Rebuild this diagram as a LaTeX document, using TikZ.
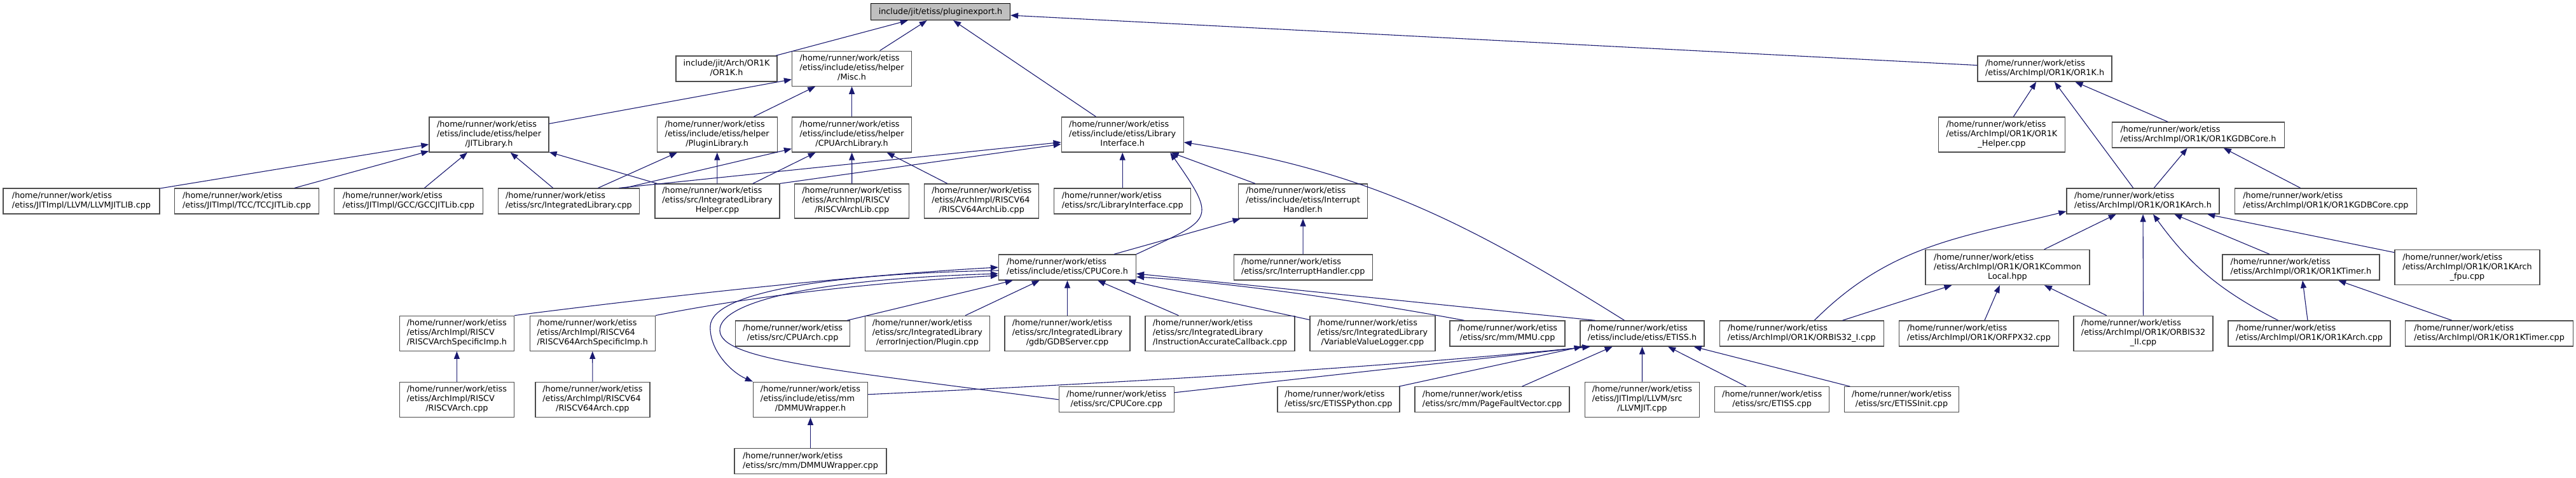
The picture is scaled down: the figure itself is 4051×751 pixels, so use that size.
\documentclass[tikz,border=0pt]{standalone}
\usepackage{fontspec}
\setmainfont{DejaVu Sans}
\usetikzlibrary{arrows.meta}
\definecolor{edgeblue}{HTML}{191970}
\definecolor{rootgray}{HTML}{BFBFBF}
\definecolor{boxgray}{HTML}{4D4D4D}
\newcommand{\hm}{/home/runner/work/etiss}
\newcommand{\pth}[2]{\begin{tabular}{@{}l@{}}#1\\\multicolumn{1}{@{}c@{}}{#2}\end{tabular}}
\tikzset{
  incfile/.style 2 args = {rectangle, draw=boxgray, line width=1.3pt, fill=white,
                           inner sep=0pt, minimum width=#1pt, minimum height=#2pt,
                           font=\fontsize{12.8}{15}\selectfont},
  rootfile/.style 2 args = {incfile={#1}{#2}, draw=black, fill=rootgray},
  dep/.style = {draw=edgeblue, line width=1.1pt, -{Triangle[length=12pt,width=9pt]}}
}

\begin{document}
\begin{tikzpicture}[x=1pt, y=-1pt]
  \useasboundingbox (0,0) rectangle (4051,751);

  % top
  \node[rootfile={219}{26}] (root) at (1479,18.5) {include/jit/etiss/pluginexport.h};

  % headers, first rank
  \node[incfile={159}{40}] (jitor1k)    at (1142.5,108) {\pth{include/jit/Arch/OR1K}{/OR1K.h}};
  \node[incfile={188}{55}] (misc)       at (1339.6,107.7) {\pth{\hm\\/etiss/include/etiss/helper}{/Misc.h}};
  \node[incfile={211}{40}] (or1kh)      at (3215.6,108) {\pth{\hm}{/etiss/ArchImpl/OR1K/OR1K.h}};

  % second rank
  \node[incfile={188}{55}] (jitlib)     at (769,211.5) {\pth{\hm\\/etiss/include/etiss/helper}{/JITLibrary.h}};
  \node[incfile={189}{55}] (pluginlib)  at (1127.7,211.5) {\pth{\hm\\/etiss/include/etiss/helper}{/PluginLibrary.h}};
  \node[incfile={188}{55}] (cpuarchlib) at (1339.6,211.5) {\pth{\hm\\/etiss/include/etiss/helper}{/CPUArchLibrary.h}};
  \node[incfile={192}{55}] (libif)      at (1765.2,211.5) {\pth{\hm\\/etiss/include/etiss/Library}{Interface.h}};
  \node[incfile={199}{55}] (or1khelper) at (3147.9,211.5) {\pth{\hm\\/etiss/ArchImpl/OR1K/OR1K}{\_Helper.cpp}};
  \node[incfile={271}{40}] (or1kgdbh)   at (3457,212) {\pth{\hm}{/etiss/ArchImpl/OR1K/OR1KGDBCore.h}};

  % third rank
  \node[incfile={246}{40}] (llvmjitlib)     at (128,316) {\pth{\hm}{/etiss/JITImpl/LLVM/LLVMJITLIB.cpp}};
  \node[incfile={227}{40}] (tccjitlib)      at (388,316) {\pth{\hm}{/etiss/JITImpl/TCC/TCCJITLib.cpp}};
  \node[incfile={234}{40}] (gccjitlib)      at (642.5,316) {\pth{\hm}{/etiss/JITImpl/GCC/GCCJITLib.cpp}};
  \node[incfile={222}{40}] (intlib)         at (894.4,316) {\pth{\hm}{/etiss/src/IntegratedLibrary.cpp}};
  \node[incfile={196}{54}] (intlibhelper)   at (1128,316) {\pth{\hm\\/etiss/src/IntegratedLibrary}{Helper.cpp}};
  \node[incfile={180}{54}] (riscvarchlib)   at (1339.8,316) {\pth{\hm\\/etiss/ArchImpl/RISCV}{/RISCVArchLib.cpp}};
  \node[incfile={180}{54}] (riscv64archlib) at (1543.8,316) {\pth{\hm\\/etiss/ArchImpl/RISCV64}{/RISCV64ArchLib.cpp}};
  \node[incfile={215}{40}] (libifcpp)       at (1765.2,316) {\pth{\hm}{/etiss/src/LibraryInterface.cpp}};
  \node[incfile={203}{54}] (inthandler)     at (2049,316) {\pth{\hm\\/etiss/include/etiss/Interrupt}{Handler.h}};
  \node[incfile={240}{40}] (or1karchh)      at (3370,316) {\pth{\hm}{/etiss/ArchImpl/OR1K/OR1KArch.h}};
  \node[incfile={286}{40}] (or1kgdbcpp)     at (3657.4,316) {\pth{\hm}{/etiss/ArchImpl/OR1K/OR1KGDBCore.cpp}};

  % fourth rank
  \node[incfile={216}{40}] (cpucoreh)      at (1678.5,420) {\pth{\hm}{/etiss/include/etiss/CPUCore.h}};
  \node[incfile={218}{40}] (inthandlercpp) at (2049.2,420) {\pth{\hm}{/etiss/src/InterruptHandler.cpp}};
  \node[incfile={258}{55}] (or1kcommon)    at (3157,420) {\pth{\hm\\/etiss/ArchImpl/OR1K/OR1KCommon}{Local.hpp}};
  \node[incfile={247}{40}] (or1ktimerh)    at (3618.4,420) {\pth{\hm}{/etiss/ArchImpl/OR1K/OR1KTimer.h}};
  \node[incfile={228}{55}] (or1karchfpu)   at (3880,420) {\pth{\hm\\/etiss/ArchImpl/OR1K/OR1KArch}{\_fpu.cpp}};

  % fifth rank
  \node[incfile={180}{55}] (riscvspec)    at (718.4,523.8) {\pth{\hm\\/etiss/ArchImpl/RISCV}{/RISCVArchSpecificImp.h}};
  \node[incfile={197}{55}] (riscv64spec)  at (931.7,523.8) {\pth{\hm\\/etiss/ArchImpl/RISCV64}{/RISCV64ArchSpecificImp.h}};
  \node[incfile={180}{40}] (cpuarchcpp)   at (1246.6,524) {\pth{\hm}{/etiss/src/CPUArch.cpp}};
  \node[incfile={196}{55}] (errinj)       at (1458.4,523.8) {\pth{\hm\\/etiss/src/IntegratedLibrary}{/errorInjection/Plugin.cpp}};
  \node[incfile={197}{55}] (gdbserver)    at (1678.5,523.8) {\pth{\hm\\/etiss/src/IntegratedLibrary}{/gdb/GDBServer.cpp}};
  \node[incfile={235}{55}] (iacb)         at (1918.5,523.8) {\pth{\hm\\/etiss/src/IntegratedLibrary}{/InstructionAccurateCallback.cpp}};
  \node[incfile={197}{55}] (varlogger)    at (2158.5,523.8) {\pth{\hm\\/etiss/src/IntegratedLibrary}{/VariableValueLogger.cpp}};
  \node[incfile={181}{40}] (mmucpp)       at (2370.6,524) {\pth{\hm}{/etiss/src/mm/MMU.cpp}};
  \node[incfile={195}{40}] (etissh)       at (2582.5,524) {\pth{\hm}{/etiss/include/etiss/ETISS.h}};
  \node[incfile={258}{40}] (orbis32i)     at (2833.3,524) {\pth{\hm}{/etiss/ArchImpl/OR1K/ORBIS32\_I.cpp}};
  \node[incfile={251}{40}] (orfpx32)      at (3112,524) {\pth{\hm}{/etiss/ArchImpl/OR1K/ORFPX32.cpp}};
  \node[incfile={219}{55}] (orbis32ii)    at (3370.6,523.8) {\pth{\hm\\/etiss/ArchImpl/OR1K/ORBIS32}{\_II.cpp}};
  \node[incfile={255}{40}] (or1karchcpp)  at (3631.6,524) {\pth{\hm}{/etiss/ArchImpl/OR1K/OR1KArch.cpp}};
  \node[incfile={264}{40}] (or1ktimercpp) at (3914.6,524) {\pth{\hm}{/etiss/ArchImpl/OR1K/OR1KTimer.cpp}};

  % sixth rank
  \node[incfile={180}{55}] (riscvarch)   at (718.4,627.7) {\pth{\hm\\/etiss/ArchImpl/RISCV}{/RISCVArch.cpp}};
  \node[incfile={180}{55}] (riscv64arch) at (931.9,627.7) {\pth{\hm\\/etiss/ArchImpl/RISCV64}{/RISCV64Arch.cpp}};
  \node[incfile={180}{55}] (dmmuh)       at (1274.5,627.7) {\pth{\hm\\/etiss/include/etiss/mm}{/DMMUWrapper.h}};
  \node[incfile={181}{40}] (cpucorecpp)  at (1755.7,627.8) {\pth{\hm}{/etiss/src/CPUCore.cpp}};
  \node[incfile={192}{40}] (etisspython) at (2105,627.8) {\pth{\hm}{/etiss/src/ETISSPython.cpp}};
  \node[incfile={243}{40}] (pagefault)   at (2346.6,627.8) {\pth{\hm}{/etiss/src/mm/PageFaultVector.cpp}};
  \node[incfile={180}{55}] (llvmjit)     at (2582.4,627.7) {\pth{\hm\\/etiss/JITImpl/LLVM/src}{/LLVMJIT.cpp}};
  \node[incfile={180}{40}] (etisscpp)    at (2786.7,627.8) {\pth{\hm}{/etiss/src/ETISS.cpp}};
  \node[incfile={180}{40}] (etissinit)   at (2990.5,627.8) {\pth{\hm}{/etiss/src/ETISSInit.cpp}};

  % bottom
  \node[incfile={239}{40}] (dmmucpp) at (1274.5,724.5) {\pth{\hm}{/etiss/src/mm/DMMUWrapper.cpp}};

  % pluginexport.h
  \draw[dep] (jitor1k) -- (root);
  \draw[dep] (misc) -- (root);
  \draw[dep] (libif) -- (root);
  \draw[dep] (or1kh) -- (root);
  % Misc.h
  \draw[dep] (jitlib) -- (misc);
  \draw[dep] (pluginlib) -- (misc);
  \draw[dep] (cpuarchlib) -- (misc);
  % JITLibrary.h
  \draw[dep] (llvmjitlib) -- (jitlib);
  \draw[dep] (tccjitlib) -- (jitlib);
  \draw[dep] (gccjitlib) -- (jitlib);
  \draw[dep] (intlib) -- (jitlib);
  \draw[dep] (intlibhelper) -- (jitlib);
  % PluginLibrary.h
  \draw[dep] (intlib) -- (pluginlib);
  \draw[dep] (intlibhelper) -- (pluginlib);
  % CPUArchLibrary.h
  \draw[dep] (intlib) -- (cpuarchlib);
  \draw[dep] (intlibhelper) -- (cpuarchlib);
  \draw[dep] (riscvarchlib) -- (cpuarchlib);
  \draw[dep] (riscv64archlib) -- (cpuarchlib);
  % LibraryInterface.h
  \draw[dep] ([xshift=79pt]intlib.north) -- ([yshift=-12pt]libif.west);
  \draw[dep] (intlibhelper.north east) -- ([yshift=-15pt]libif.west);
  \draw[dep] (libifcpp) -- (libif);
  \draw[dep] (inthandler) -- (libif);
  \draw[dep] (cpucoreh.north east) to[out=25, in=-55, looseness=2] ([xshift=75pt]libif.south);
  \draw[dep] ([xshift=-28pt]etissh.north) to[out=148, in=-9] ([yshift=-12pt]libif.east);
  % InterruptHandler.h
  \draw[dep] (inthandlercpp) -- (inthandler);
  \draw[dep] (cpucoreh) -- (inthandler);
  % CPUCore.h
  \draw[dep] (riscvspec.north east) .. controls (1050,465) and (1350,432) .. (cpucoreh.west);
  \draw[dep] (riscv64spec.north east) .. controls (1200,462) and (1400,442) .. ([yshift=-13pt]cpucoreh.west);
  \draw[dep] (cpuarchcpp) -- (cpucoreh);
  \draw[dep] (errinj) -- (cpucoreh);
  \draw[dep] (gdbserver) -- (cpucoreh);
  \draw[dep] (iacb) -- (cpucoreh);
  \draw[dep] (varlogger) -- (cpucoreh);
  \draw[dep] ([xshift=-68pt]mmucpp.north) .. controls (2150,475) and (1950,445) .. ([yshift=-15pt]cpucoreh.east);
  \draw[dep] ([xshift=-74pt]etissh.north) -- ([yshift=-10pt]cpucoreh.east);
  \draw[dep] (cpucorecpp.west) .. controls (1300,580) and (1135,565) .. (1132,520)
             .. controls (1129,480) and (1250,440) .. ([yshift=-10pt]cpucoreh.west);
  % DMMUWrapper.h
  \draw[dep] ([yshift=-5pt]cpucoreh.west) .. controls (1300,430) and (1120,460) .. (1117,512)
             .. controls (1115,550) and (1150,585) .. (dmmuh.north west);
  \draw[dep] (dmmucpp) -- (dmmuh);
  % ETISS.h
  \draw[dep] ([yshift=8pt]dmmuh.east) .. controls (1800,600) and (2200,575) .. ([xshift=-82pt]etissh.south);
  \draw[dep] ([yshift=11pt]cpucorecpp.east) -- ([xshift=-82pt]etissh.south);
  \draw[dep] (etisspython) -- (etissh);
  \draw[dep] (pagefault) -- (etissh);
  \draw[dep] (llvmjit) -- (etissh);
  \draw[dep] (etisscpp) -- (etissh);
  \draw[dep] (etissinit) -- (etissh);
  % RISC-V specific
  \draw[dep] (riscvarch) -- (riscvspec);
  \draw[dep] (riscv64arch) -- (riscv64spec);
  % OR1K.h
  \draw[dep] (or1khelper) -- (or1kh);
  \draw[dep] (or1karchh) -- (or1kh);
  \draw[dep] (or1kgdbh) -- (or1kh);
  % OR1KGDBCore.h
  \draw[dep] (or1karchh) -- (or1kgdbh);
  \draw[dep] (or1kgdbcpp) -- (or1kgdbh);
  % OR1KArch.h
  \draw[dep] ([xshift=20pt]orbis32i.north) to[out=45, in=194] ([yshift=-16pt]or1karchh.west);
  \draw[dep] (or1kcommon) -- (or1karchh);
  \draw[dep] (orbis32ii) -- (or1karchh);
  \draw[dep] ([xshift=-49pt]or1karchcpp.north) to[out=153, in=-54] ([xshift=16pt]or1karchh.south);
  \draw[dep] (or1ktimerh) -- (or1karchh);
  \draw[dep] (or1karchfpu) -- (or1karchh);
  % OR1KCommonLocal.hpp
  \draw[dep] (orbis32i) -- (or1kcommon);
  \draw[dep] (orfpx32) -- (or1kcommon);
  \draw[dep] (orbis32ii) -- (or1kcommon);
  % OR1KTimer.h
  \draw[dep] (or1karchcpp) -- (or1ktimerh);
  \draw[dep] (or1ktimercpp) -- (or1ktimerh);
\end{tikzpicture}
\end{document}
